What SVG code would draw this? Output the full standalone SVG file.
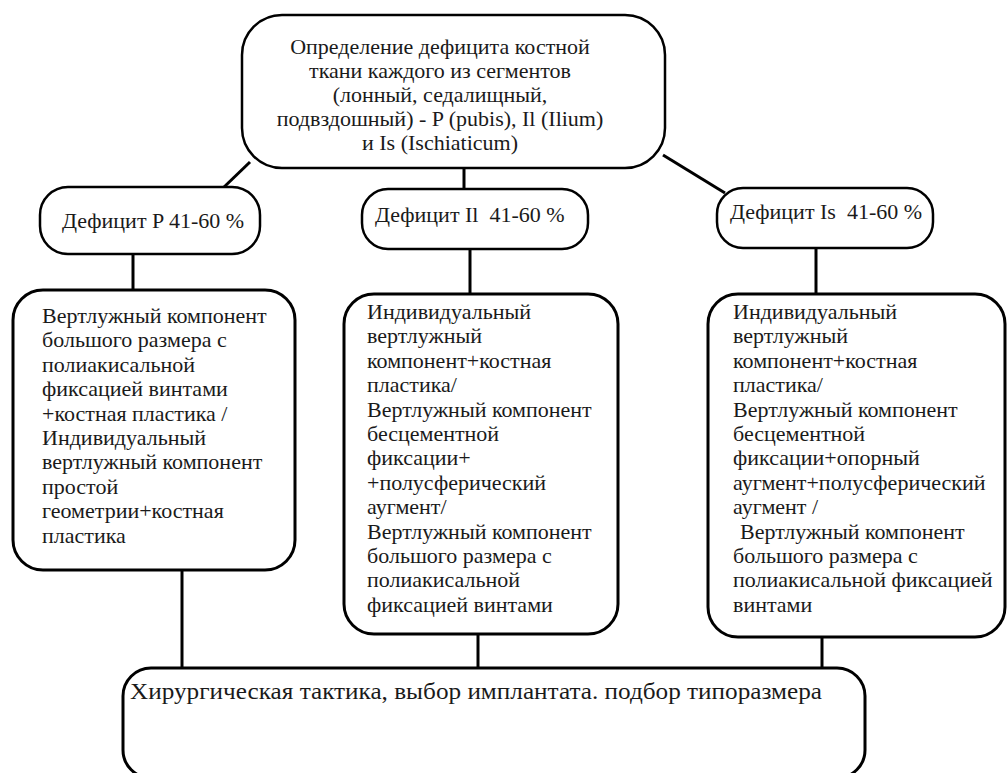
<svg xmlns="http://www.w3.org/2000/svg" width="1008" height="773" viewBox="0 0 1008 773">
<style>
.box{fill:#fff;stroke:#000;stroke-width:2.5}
.big{fill:#fff;stroke:#000;stroke-width:3}
.t{font-family:'Liberation Serif',serif;font-size:22px;fill:#1a1a1a}
.c{text-anchor:middle}
.ln{stroke:#000;stroke-width:3;fill:none}
</style>
<rect width="1008" height="773" fill="#fff"/>
<g id="connectors">
<line class="ln" x1="250" y1="162" x2="223" y2="188"/>
<line class="ln" x1="464" y1="163" x2="464" y2="193"/>
<line class="ln" x1="663" y1="155" x2="725" y2="193"/>
<line class="ln" x1="133" y1="254" x2="133" y2="290"/>
<line class="ln" x1="470" y1="249" x2="470" y2="294"/>
<line class="ln" x1="816" y1="248" x2="816" y2="294"/>
<line class="ln" x1="182" y1="570" x2="182" y2="668"/>
<line class="ln" x1="478" y1="634" x2="478" y2="668"/>
<line class="ln" x1="822" y1="637" x2="822" y2="672"/>
</g>
<g id="top">
<rect class="box" x="242" y="15" width="423" height="153" rx="40"/>
<text class="t c" x="440" y="54">Определение дефицита костной</text>
<text class="t c" x="440" y="78">ткани каждого из сегментов</text>
<text class="t c" x="440" y="102">(лонный, седалищный,</text>
<text class="t c" x="440" y="126">подвздошный) - P (pubis), Il (Ilium)</text>
<text class="t c" x="440" y="150">и Is (Ischiaticum)</text>
</g>
<g id="defP">
<rect class="box" x="40" y="187" width="220" height="67" rx="28"/>
<text class="t" x="62" y="228">Дефицит P 41-60 %</text>
</g>
<g id="defIl">
<rect class="box" x="362" y="189" width="226" height="60" rx="26"/>
<text class="t" x="375" y="222" xml:space="preserve">Дефицит Il  41-60 %</text>
</g>
<g id="defIs">
<rect class="box" x="717" y="188" width="216" height="60" rx="26"/>
<text class="t" x="730" y="219" xml:space="preserve">Дефицит Is  41-60 %</text>
</g>
<g id="boxP">
<rect class="big" x="13" y="290" width="282" height="280" rx="30"/>
<text class="t" x="42" y="323">Вертлужный компонент</text>
<text class="t" x="42" y="347">большого размера с</text>
<text class="t" x="42" y="372">полиакисальной</text>
<text class="t" x="42" y="396">фиксацией винтами</text>
<text class="t" x="42" y="421">+костная пластика /</text>
<text class="t" x="42" y="445">Индивидуальный</text>
<text class="t" x="42" y="469">вертлужный компонент</text>
<text class="t" x="42" y="494">простой</text>
<text class="t" x="42" y="518">геометрии+костная</text>
<text class="t" x="42" y="543">пластика</text>
</g>
<g id="boxIl">
<rect class="big" x="344" y="294" width="274" height="340" rx="30"/>
<text class="t" x="367" y="319">Индивидуальный</text>
<text class="t" x="367" y="343">вертлужный</text>
<text class="t" x="367" y="368">компонент+костная</text>
<text class="t" x="367" y="392">пластика/</text>
<text class="t" x="367" y="417">Вертлужный компонент</text>
<text class="t" x="367" y="441">бесцементной</text>
<text class="t" x="367" y="465">фиксации+</text>
<text class="t" x="367" y="490">+полусферический</text>
<text class="t" x="367" y="514">аугмент/</text>
<text class="t" x="367" y="539">Вертлужный компонент</text>
<text class="t" x="367" y="563">большого размера с</text>
<text class="t" x="367" y="587">полиакисальной</text>
<text class="t" x="367" y="612">фиксацией винтами</text>
</g>
<g id="boxIs">
<rect class="big" x="708" y="294" width="297" height="343" rx="30"/>
<text class="t" x="733" y="319">Индивидуальный</text>
<text class="t" x="733" y="343">вертлужный</text>
<text class="t" x="733" y="368">компонент+костная</text>
<text class="t" x="733" y="392">пластика/</text>
<text class="t" x="733" y="417">Вертлужный компонент</text>
<text class="t" x="733" y="441">бесцементной</text>
<text class="t" x="733" y="465">фиксации+опорный</text>
<text class="t" x="733" y="490">аугмент+полусферический</text>
<text class="t" x="733" y="514">аугмент /</text>
<text class="t" x="740" y="539">Вертлужный компонент</text>
<text class="t" x="733" y="563">большого размера с</text>
<text class="t" x="733" y="587">полиакисальной фиксацией</text>
<text class="t" x="733" y="612">винтами</text>
</g>
<g id="bottom">
<rect class="big" x="123" y="668" width="742" height="110" rx="28"/>
<text class="t" x="130" y="699" style="font-size:23px" textLength="692" lengthAdjust="spacingAndGlyphs">Хирургическая тактика, выбор имплантата. подбор типоразмера</text>
</g>
</svg>
